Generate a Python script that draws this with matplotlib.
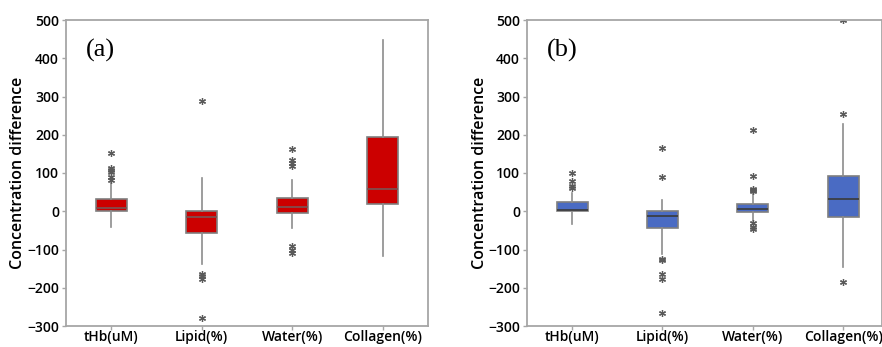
import matplotlib
matplotlib.use('Agg')
import matplotlib.pyplot as plt

plt.rcParams['font.family'] = ['Open Sans', 'DejaVu Sans']

categories = ['tHb(uM)', 'Lipid(%)', 'Water(%)', 'Collagen(%)']

# panel (a): q1, median, q3, whisker low, whisker high
a_q1 = [0, -58, -5, 19]
a_med = [8, -16, 10, 58]
a_q3 = [31, 0, 34, 195]
a_wlo = [-40, -139, -43, -117]
a_whi = [76, 86, 81, 448]
a_fliers = [[153, 113, 108, 102, 90, 82],
            [289, -163, -170, -177, -280],
            [162, 133, 125, 118, -92, -100, -110],
            []]

# panel (b)
b_q1 = [0, -45, -3, -16]
b_med = [4, -13, 7, 31]
b_q3 = [24, 0, 18, 92]
b_wlo = [-34, -113, -26, -147]
b_whi = [47, 29, 46, 229]
b_fliers = [[101, 79, 65, 60],
            [166, 90, -125, -128, -163, -178, -265],
            [212, 93, 58, 55, 52, -31, -40, -47],
            [500, 254, -185]]


def make_stats(q1, med, q3, wlo, whi, fliers):
    stats = []
    for i in range(len(categories)):
        stats.append(dict(q1=q1[i], med=med[i], q3=q3[i], whislo=wlo[i],
                          whishi=whi[i], fliers=fliers[i], label=categories[i]))
    return stats


def draw_panel(ax, stats, color, medcolor, label, xmax):
    ax.bxp(stats, widths=0.34, patch_artist=True, showcaps=False,
           boxprops=dict(facecolor=color, edgecolor='#7f7f7f', linewidth=1.2),
           medianprops=dict(color=medcolor, linewidth=1.2),
           whiskerprops=dict(color='#8c8c8c', linewidth=1.2),
           flierprops=dict(marker=(6, 2, 0), markersize=5, markeredgecolor='#5a5a5a',
                           markeredgewidth=0.9, linestyle='none'))
    ax.set_ylim(-300, 500)
    ax.set_xlim(0.5, xmax)
    ax.set_yticks(range(-300, 501, 100))
    for s in ax.spines.values():
        s.set_color('#a6a6a6')
        s.set_linewidth(1.3)
    ax.tick_params(axis='both', colors='#a6a6a6', labelcolor='black',
                   labelsize=10, length=3, width=1)
    ax.tick_params(axis='x', pad=0)
    ax.tick_params(axis='y', pad=2)
    for t in ax.get_xticklabels() + ax.get_yticklabels():
        t.set_fontweight('semibold')
    ax.set_ylabel('Concentration difference', fontsize=11.5, fontweight='semibold')
    ax.yaxis.set_label_coords(-0.11, 0.5)
    ax.text(0.055, 0.9, label, transform=ax.transAxes, fontsize=19,
            family='Liberation Serif', va='center', ha='left')


fig = plt.figure(figsize=(8.82, 3.47), dpi=100)
ax1 = fig.add_axes([66 / 882, 21 / 347, 362 / 882, 306 / 347])
ax2 = fig.add_axes([527 / 882, 21 / 347, 355 / 882, 306 / 347])

draw_panel(ax1, make_stats(a_q1, a_med, a_q3, a_wlo, a_whi, a_fliers),
           '#cc0000', '#7a5555', '(a)', 4.5)
draw_panel(ax2, make_stats(b_q1, b_med, b_q3, b_wlo, b_whi, b_fliers),
           '#4a6bc3', '#3a3a3a', '(b)', 4.43)

fig.savefig('out.png', dpi=100)
